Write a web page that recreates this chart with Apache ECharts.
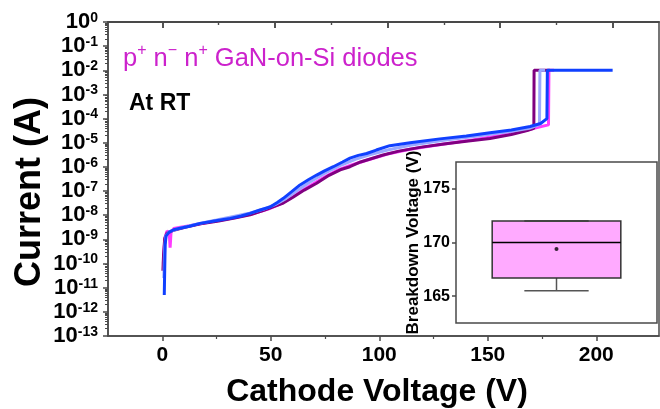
<!DOCTYPE html>
<html>
<head>
<meta charset="utf-8">
<script src="https://cdn.jsdelivr.net/npm/echarts@6/dist/echarts.min.js"></script>
<style>
html, body { margin: 0; padding: 0; background: #fff; }
#chart { width: 660px; height: 409px; }
</style>
</head>
<body>
<div id="chart"></div>
<script>
// Reverse-bias I–V sweeps of four diodes: cathode voltage (V) and current (A)
const voltsD1 = [0.2, 0.5, 1, 2, 5, 10, 17, 25, 32, 39, 45, 50, 53.7, 58, 63, 68.5, 74, 79, 83.3, 88, 98, 105, 115, 125, 135, 145.5, 155, 162, 165, 165.1, 172];
const ampsD1  = [5e-11, 2.5e-10, 1.1e-9, 1.8e-9, 2.4e-9, 3.2e-9, 4.4e-9, 5.8e-9, 7.6e-9, 1.05e-8, 1.6e-8, 2.4e-8, 3.2e-8, 5.6e-8, 1.1e-7, 2.1e-7, 4.5e-7, 7.6e-7, 1.02e-6, 1.6e-6, 3.1e-6, 4.5e-6, 6.6e-6, 8.9e-6, 1.15e-5, 1.5e-5, 2.2e-5, 3.2e-5, 4e-5, 1e-2, 1e-2];

const voltsD2 = [0.4, 0.8, 1.2, 2, 3, 3.4, 3.8, 5, 8, 12, 18, 25, 32, 40, 47, 52, 57, 62, 67, 72, 78, 84, 90, 100, 110, 120, 135, 150, 160, 166, 171.5, 171.7, 174];
const ampsD2  = [1e-10, 5e-10, 1.26e-9, 2.2e-9, 2e-9, 4.5e-10, 2e-9, 2.8e-9, 3.2e-9, 3.7e-9, 4.7e-9, 6e-9, 7.9e-9, 1.15e-8, 1.8e-8, 2.8e-8, 5.2e-8, 1.05e-7, 2e-7, 3.8e-7, 7.6e-7, 1.2e-6, 1.8e-6, 3.4e-6, 5.4e-6, 7.6e-6, 1.2e-5, 2e-5, 3e-5, 4.2e-5, 5.5e-5, 1e-2, 1e-2];

const voltsD3 = [0.6, 1.0, 1.5, 3, 8, 16, 24, 30, 38, 45, 50, 55, 60, 65, 70, 75, 80, 86, 92, 100, 110, 125, 140, 155, 163, 167.5, 167.7, 170];
const ampsD3  = [2.5e-11, 5e-10, 1.4e-9, 2.1e-9, 3e-9, 4.5e-9, 6.3e-9, 8.3e-9, 1.17e-8, 1.8e-8, 2.75e-8, 5e-8, 1.07e-7, 2.2e-7, 4.2e-7, 7.6e-7, 1.26e-6, 2.1e-6, 3.2e-6, 5e-6, 7.9e-6, 1.26e-5, 1.9e-5, 3e-5, 4e-5, 5.6e-5, 1e-2, 1e-2];

const voltsD4 = [0.8, 1.0, 1.2, 1.6, 3, 5, 7.8, 12, 16.7, 23, 30, 35, 38.9, 43, 47.8, 51, 53.7, 57, 61.1, 65, 68.5, 72, 75.9, 80, 83.3, 87, 90.7, 95, 101, 110, 123.2, 135, 145.5, 155, 163.3, 168, 170.8, 171, 200];
const ampsD4  = [5e-12, 6e-11, 6e-10, 1.4e-9, 2e-9, 2.5e-9, 2.9e-9, 3.5e-9, 4.6e-9, 5.8e-9, 7.4e-9, 9.3e-9, 1.2e-8, 1.6e-8, 2.2e-8, 3.4e-8, 5e-8, 8.9e-8, 1.8e-7, 3e-7, 4.6e-7, 6.9e-7, 1.02e-6, 1.6e-6, 2.3e-6, 3e-6, 3.6e-6, 5e-6, 7.6e-6, 1e-5, 1.45e-5, 1.9e-5, 2.6e-5, 3.4e-5, 4.7e-5, 6.3e-5, 1e-4, 1e-2, 1e-2];

// Axis ticks
const xTickValues = [0, 50, 100, 150, 200];
const xMinorValues = [25, 75, 125, 175];
const insetTickValues = [165, 170, 175];
const currentTop = 1; // upper end of the current axis (A)

// Breakdown-voltage statistics: min, Q1, median, Q3, max
const breakdownBox = [165.5, 166.7, 170, 172, 172];
const breakdownMean = 169.4;

const FONT = 'Liberation Sans, Arial, Helvetica, sans-serif';
const AXIS_COLOR = '#4a4a4a';

const pair = (vs, is) => vs.map((v, i) => [v, is[i]]);

// minor decade ticks (2..9 within each decade) on an exponent axis
const decadeMinor = [];
for (let n = -13; n < 0; n++) {
  for (let k = 2; k <= 9; k++) decadeMinor.push(n + Math.log10(k));
}

// tick-only axes keep an (empty) label layer
const blankLabels = values => ({ show: true, customValues: values, formatter: () => '', fontSize: 1, color: 'rgba(0,0,0,0)' });

const chart = echarts.init(document.getElementById('chart'), null, { renderer: 'canvas' });

const lineSeries = (name, color, vs, is) => ({
  name, type: 'line', xAxisIndex: 0, yAxisIndex: 0,
  data: pair(vs, is), showSymbol: false, symbol: 'none', clip: false,
  lineStyle: { color, width: 3 }
});

const PLOT = { left: 108, top: 22, width: 551, height: 314 };
// thin strip whose lower edge is the top edge of the main plot
const TOP_STRIP = { left: 108, top: 0, width: 551, height: 22 };

// top frame edge of the main plot
const frameTop = {
  silent: true, animation: false,
  symbol: ['none', 'none'],
  label: { show: false },
  lineStyle: { color: AXIS_COLOR, width: 1.5, type: 'solid' },
  emphasis: { disabled: true },
  data: [{ yAxis: currentTop }]
};

const option = {
  animation: false,
  grid: [
    Object.assign({ show: true, borderColor: AXIS_COLOR, borderWidth: 1.5, backgroundColor: 'transparent' }, PLOT),
    { left: 456, top: 162, width: 201, height: 161, show: true, borderColor: AXIS_COLOR, borderWidth: 1.5, backgroundColor: '#fff' },
    Object.assign({ show: false }, PLOT),
    Object.assign({ show: false }, TOP_STRIP)
  ],
  xAxis: [
    { // data axis, drawn along the top edge with inward ticks
      gridIndex: 0, type: 'value', position: 'top', min: -24.2, max: 220.6,
      axisLine: { show: true, onZero: false, lineStyle: { color: AXIS_COLOR, width: 1.5 } },
      axisTick: { show: true, inside: true, length: 6, customValues: xTickValues, lineStyle: { color: AXIS_COLOR, width: 1.5 } },
      axisLabel: blankLabels(xTickValues), splitLine: { show: false }
    },
    { // labelled bottom axis
      gridIndex: 0, type: 'value', position: 'bottom', min: -25, max: 228.9,
      axisLine: { show: true, onZero: false, lineStyle: { color: AXIS_COLOR, width: 1.5 } },
      axisTick: { show: true, inside: false, length: 5, customValues: xTickValues, lineStyle: { color: AXIS_COLOR, width: 1.5 } },
      axisLabel: { show: true, customValues: xTickValues, margin: 9, color: '#000', fontFamily: FONT, fontWeight: 'bold', fontSize: 21 },
      splitLine: { show: false }
    },
    { // inset category axis
      gridIndex: 1, type: 'category', data: ['BV'],
      axisLine: { show: false, onZero: false }, axisTick: { show: false }, axisLabel: { show: false }, splitLine: { show: false }
    },
    { // minor ticks of the labelled axis
      gridIndex: 2, type: 'value', position: 'bottom', min: -25, max: 228.9,
      axisLine: { show: false, onZero: false },
      axisTick: { show: true, inside: false, length: 3, customValues: xMinorValues, lineStyle: { color: AXIS_COLOR, width: 1.2 } },
      axisLabel: blankLabels(xMinorValues), splitLine: { show: false }
    },
    { // minor ticks along the top edge
      gridIndex: 2, type: 'value', position: 'top', min: -24.2, max: 220.6,
      axisLine: { show: false, onZero: false },
      axisTick: { show: true, inside: true, length: 3, customValues: xMinorValues, lineStyle: { color: AXIS_COLOR, width: 1.2 } },
      axisLabel: blankLabels(xMinorValues), splitLine: { show: false }
    },
    { // top frame: lower edge of the strip, ticks pointing down into the plot
      gridIndex: 3, type: 'value', position: 'bottom', min: -24.2, max: 220.6,
      axisLine: { show: true, onZero: false, lineStyle: { color: AXIS_COLOR, width: 1.5 } },
      axisTick: { show: true, inside: false, length: 6, customValues: xTickValues, lineStyle: { color: AXIS_COLOR, width: 1.5 } },
      axisLabel: blankLabels(xTickValues), splitLine: { show: false }
    },
    {
      gridIndex: 3, type: 'value', position: 'bottom', min: -24.2, max: 220.6,
      axisLine: { show: false, onZero: false },
      axisTick: { show: true, inside: false, length: 3, customValues: xMinorValues, lineStyle: { color: AXIS_COLOR, width: 1.2 } },
      axisLabel: blankLabels(xMinorValues), splitLine: { show: false }
    }
  ],
  yAxis: [
    {
      gridIndex: 0, type: 'log', logBase: 10, min: 1e-13, max: currentTop, interval: 1,
      axisLine: { show: true, onZero: false, lineStyle: { color: AXIS_COLOR, width: 1.5 } },
      axisTick: { show: true, inside: false, length: 5, lineStyle: { color: AXIS_COLOR, width: 1.5 } },
      minorTick: { show: false },
      splitLine: { show: false },
      axisLabel: {
        margin: 10, color: '#000', fontFamily: FONT, fontWeight: 'bold',
        showMinLabel: true, showMaxLabel: true, hideOverlap: false,
        formatter: v => '{b|10}{s|' + Math.round(Math.log10(v)) + '}',
        rich: {
          b: { fontSize: 22, fontWeight: 'bold', fontFamily: FONT, color: '#000', lineHeight: 22 },
          s: { fontSize: 14, fontWeight: 'bold', fontFamily: FONT, color: '#000', lineHeight: 3, verticalAlign: 'top' }
        }
      }
    },
    { // inset value axis
      gridIndex: 1, type: 'value', min: 162.5, max: 177.5,
      axisLine: { show: false, onZero: false },
      axisTick: { show: true, inside: false, length: 4, customValues: insetTickValues, lineStyle: { color: AXIS_COLOR, width: 1.5 } },
      axisLabel: { show: true, customValues: insetTickValues, margin: 6, color: '#000', fontFamily: FONT, fontWeight: 'bold', fontSize: 16 },
      splitLine: { show: false }
    },
    { // minor decade ticks
      gridIndex: 2, type: 'value', min: -13, max: 0, position: 'left',
      axisLine: { show: false, onZero: false },
      axisTick: { show: true, inside: false, length: 3, customValues: decadeMinor, lineStyle: { color: AXIS_COLOR, width: 1 } },
      axisLabel: blankLabels([-13, 0]), splitLine: { show: false }
    },
    { // strip above the plot: no visible y scale
      gridIndex: 3, type: 'value', min: 0, max: 1,
      axisLine: { show: false, onZero: false }, axisTick: { show: false }, axisLabel: { show: false }, splitLine: { show: false }
    }
  ],
  series: [
    lineSeries('Diode 2', '#ff3cff', voltsD2, ampsD2),
    lineSeries('Diode 1', '#800080', voltsD1, ampsD1),
    lineSeries('Diode 3', '#9aa8ff', voltsD3, ampsD3),
    Object.assign(lineSeries('Diode 4', '#1040ff', voltsD4, ampsD4), { markLine: frameTop }),
    { // top edge of the plot frame, traced along the coordinate system's upper bound
      name: 'Frame', type: 'custom', xAxisIndex: 0, yAxisIndex: 0, z: 6, silent: true, clip: false,
      data: [[0, currentTop]],
      renderItem: (params, api) => {
        const cs = params.coordSys;
        const yTop = api.coord([api.value(0), api.value(1)])[1];
        return {
          type: 'line',
          shape: { x1: cs.x, y1: yTop, x2: cs.x + cs.width, y2: yTop },
          style: { stroke: AXIS_COLOR, lineWidth: 1.5 }
        };
      }
    },
    {
      name: 'Breakdown voltage', type: 'custom', xAxisIndex: 2, yAxisIndex: 1, z: 10,
      data: [[0].concat(breakdownBox)],
      renderItem: (params, api) => {
        const cat = api.value(0);
        const lo = api.value(1), q1 = api.value(2), med = api.value(3), q3 = api.value(4), hi = api.value(5);
        const band = api.size([1, 0])[0];
        const cx = api.coord([cat, med])[0];
        const y = v => api.coord([cat, v])[1];
        const bw = band * 0.64, cw = band * 0.32;
        const grey = { stroke: '#555', lineWidth: 1.5 };
        return {
          type: 'group',
          children: [
            { type: 'line', shape: { x1: cx, y1: y(q1), x2: cx, y2: y(lo) }, style: grey },
            { type: 'line', shape: { x1: cx, y1: y(q3), x2: cx, y2: y(hi) }, style: grey },
            { type: 'rect', shape: { x: cx - bw / 2, y: y(q3), width: bw, height: y(q1) - y(q3) },
              style: { fill: '#ffaaff', stroke: '#333', lineWidth: 1.5 } },
            { type: 'line', shape: { x1: cx - bw / 2, y1: y(med), x2: cx + bw / 2, y2: y(med) }, style: { stroke: '#000', lineWidth: 1.5 } },
            { type: 'line', shape: { x1: cx - cw / 2, y1: y(lo), x2: cx + cw / 2, y2: y(lo) }, style: grey },
            { type: 'line', shape: { x1: cx - cw / 2, y1: y(hi), x2: cx + cw / 2, y2: y(hi) }, style: { stroke: '#444', lineWidth: 2 } }
          ]
        };
      }
    },
    {
      name: 'Mean', type: 'scatter', xAxisIndex: 2, yAxisIndex: 1, z: 11,
      data: [[0, breakdownMean]], symbol: 'circle', symbolSize: 4,
      itemStyle: { color: '#000' }
    }
  ],
  graphic: [
    {
      type: 'text', x: 30, y: 192, rotation: Math.PI / 2, z: 20,
      style: { text: 'Current (A)', font: 'bold 36px ' + FONT, fill: '#000', align: 'center', verticalAlign: 'middle' }
    },
    {
      type: 'text', x: 377, y: 392, z: 20,
      style: { text: 'Cathode Voltage (V)', font: 'bold 32px ' + FONT, fill: '#000', align: 'center', verticalAlign: 'middle' }
    },
    {
      type: 'text', x: 413, y: 242.5, rotation: Math.PI / 2, z: 20,
      style: { text: 'Breakdown Voltage (V)', font: 'bold 17px ' + FONT, fill: '#000', align: 'center', verticalAlign: 'middle' }
    },
    {
      type: 'text', x: 123, y: 59, z: 20,
      style: {
        text: '{t|p}{s|+}{t| n}{s|−}{t| n}{s|+}{t| GaN-on-Si diodes}',
        align: 'left', verticalAlign: 'middle', fill: '#cc22cc',
        rich: {
          t: { fontSize: 25.5, fontFamily: FONT, fill: '#cc22cc', color: '#cc22cc', lineHeight: 32 },
          s: { fontSize: 16, fontFamily: FONT, fill: '#cc22cc', color: '#cc22cc', lineHeight: 16, verticalAlign: 'top' }
        }
      }
    },
    {
      type: 'text', x: 129, y: 104, z: 20,
      style: { text: 'At RT', font: 'bold 23px ' + FONT, fill: '#000', align: 'left', verticalAlign: 'middle' }
    }
  ]
};

chart.setOption(option);
</script>
</body>
</html>
